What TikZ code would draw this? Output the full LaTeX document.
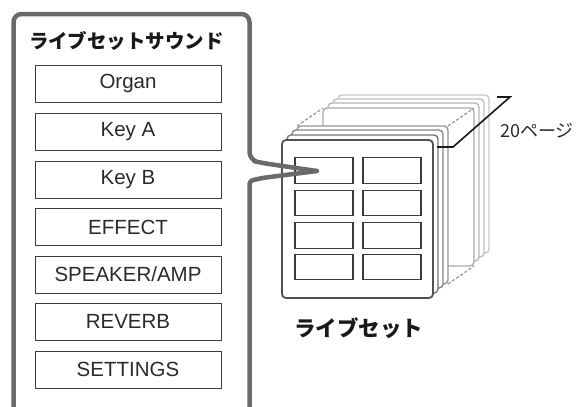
\documentclass[tikz,border=0pt]{standalone}
\usepackage{fontspec}
\setmainfont{Liberation Sans}
\newfontfamily\jp{Noto Sans CJK JP}
\definecolor{frameg}{HTML}{6A6A6A}
\definecolor{boxg}{HTML}{3A3A3A}
\definecolor{txtg}{HTML}{2A2A2A}
\tikzset{
  sbox/.style={draw=boxg, line width=1pt, fill=white, minimum width=186pt, minimum height=37pt,
    inner sep=0pt, font=\fontsize{20.5}{24}\selectfont, text=txtg},
  cell/.style={draw=boxg, line width=1.2pt, minimum width=58pt, minimum height=25.5pt, inner sep=0pt},
  page/.style={fill=white, line width=1.4pt, rounded corners=4pt},
  jtitle/.style={font=\jp\bfseries\fontsize{19.5}{22}\selectfont, text=black!90, inner sep=0pt},
}
\begin{document}
\begin{tikzpicture}[x=1pt,y=-1pt]
\useasboundingbox (0,0) rectangle (579,407);
\node[jtitle] (title) at (126.5,41) {ライブセットサウンド};
\node[sbox] (organ) at (128,83.5) {Organ};
\node[sbox] (keya) at (128,131.5) {Key A};
\node[sbox] (keyb) at (128,179.5) {Key B};
\node[sbox] (effect) at (128,227) {EFFECT};
\node[sbox] (spk) at (128,274.5) {SPEAKER/AMP};
\node[sbox] (rev) at (128,321.5) {REVERB};
\node[sbox] (set) at (128,369.5) {SETTINGS};
% page stack, back to front
\foreach \dx/\dy/\c in {56/-45/C8C8C8, 51/-41/C0C0C0, 46/-37/B6B6B6, 41/-32/ABABAB}{
  \definecolor{pc}{HTML}{\c}
  \draw[page, draw=pc] (282+\dx,140+\dy) rectangle (433+\dx,298+\dy);
}
\draw[dashed, dash pattern=on 3pt off 2pt, line width=1.3pt, color=black!40]
  (297,126) -- (323,108) (448,126) -- (474,108) (448,284) -- (474,266);
\foreach \dx/\dy/\c in {15/-14/959595, 10/-10/858585, 5/-5/757575}{
  \definecolor{pc}{HTML}{\c}
  \draw[page, draw=pc] (282+\dx,140+\dy) rectangle (433+\dx,298+\dy);
}
\draw[page, draw=black!68, line width=1.8pt] (282,140) rectangle (433,298);
\node[cell] (c11) at (324,170.5) {};
\node[cell] (c12) at (392,170.5) {};
\node[cell] (c21) at (324,203) {};
\node[cell] (c22) at (392,203) {};
\node[cell] (c31) at (324,235.5) {};
\node[cell] (c32) at (392,235.5) {};
\node[cell] (c41) at (324,267) {};
\node[cell] (c42) at (392,267) {};
\node[jtitle, font=\jp\bfseries\fontsize{21.5}{25}\selectfont] (live) at (358.5,328.5) {ライブセット};
% left frame with callout pointing into the front page
\coordinate (tip) at (317,171);
\draw[frameg, line width=4.5pt, rounded corners=8pt, line join=round]
  (13.5,407) -- (13.5,14) -- (249.5,14) -- (249.5,160) -- (262,163) -- (tip);
\draw[frameg, line width=4.5pt, line join=round, rounded corners=3pt]
  (tip) -- (262,178) -- (249.5,181) -- (249.5,407);
\fill[frameg] (tip) circle (2.25pt);
% bracket
\coordinate (b1) at (437,147);
\coordinate (b2) at (497,97);
\draw[black!90, line width=1.6pt] (b1) -- (453,147) -- (510,97) -- (b2);
\node[font=\jp\fontsize{18}{21}\selectfont, text=txtg, inner sep=0pt] (pages) at (537,131) {20ページ};
\end{tikzpicture}
\end{document}
